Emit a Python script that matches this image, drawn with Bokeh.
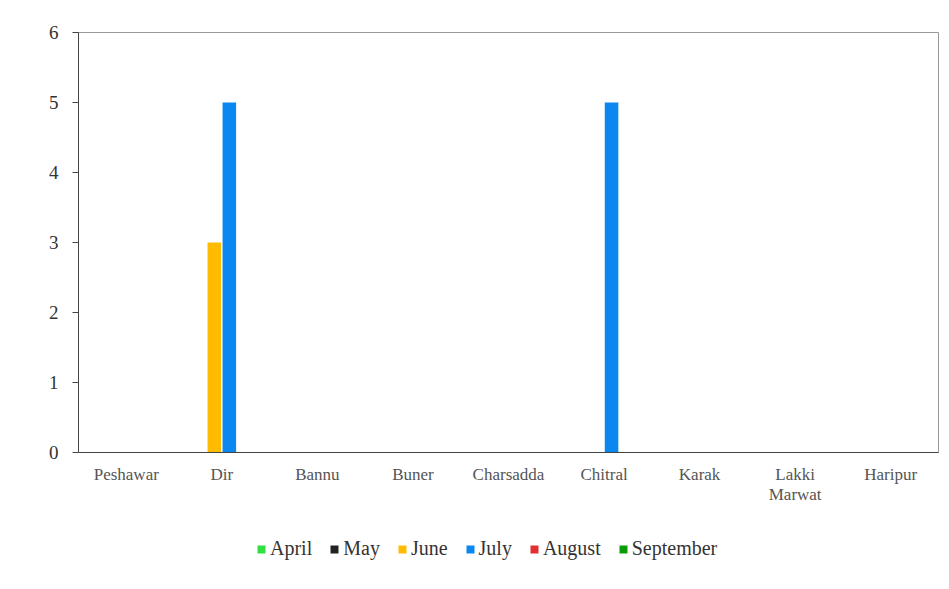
from bokeh.plotting import figure
from bokeh.layouts import column
from bokeh.models import (Range1d, Legend, LegendItem, FixedTicker, ColumnDataSource, LinearAxis)
from bokeh.transform import dodge
from bokeh.embed import file_html
from bokeh.resources import INLINE

districts = ["Peshawar", "Dir", "Bannu", "Buner", "Charsadda", "Chitral", "Karak", "Lakki Marwat", "Haripur"]
months = ["April", "May", "June", "July", "August", "September"]
april = [0, 0, 0, 0, 0, 0, 0, 0, 0]
may = [0, 0, 0, 0, 0, 0, 0, 0, 0]
june = [0, 3, 0, 0, 0, 0, 0, 0, 0]
july = [0, 5, 0, 0, 0, 5, 0, 0, 0]
august = [0, 0, 0, 0, 0, 0, 0, 0, 0]
september = [0, 0, 0, 0, 0, 0, 0, 0, 0]
colors = ["#2EE040", "#222222", "#FFBB00", "#0A88F0", "#E03030", "#0A9A0A"]
series = [april, may, june, july, august, september]

n = len(districts)
centers = [i + 0.5 for i in range(n)]  # category slot centres
source = ColumnDataSource(data=dict(pos=centers, **{m: s for m, s in zip(months, series)}))

p = figure(width=949, height=520, output_backend="svg", toolbar_location=None,
           x_range=Range1d(0, n), y_range=Range1d(0, 6), x_axis_location=None)
p.min_border_left = 78
p.min_border_top = 32
p.min_border_right = 11
p.min_border_bottom = 68

step = 0.157
for i, (m, c) in enumerate(zip(months, colors)):
    p.vbar(x=dodge("pos", (i - 2.5) * step), top=m, width=0.142,
           source=source, fill_color=c, line_color=None)

p.xgrid.grid_line_color = None
p.ygrid.grid_line_color = None
p.outline_line_color = "#999999"

p.yaxis.ticker = FixedTicker(ticks=[0, 1, 2, 3, 4, 5, 6])
p.yaxis.minor_tick_line_color = None
p.yaxis.major_tick_out = 6
p.yaxis.major_tick_in = 0
p.yaxis.axis_line_color = "#444444"
p.yaxis.major_tick_line_color = "#444444"
p.yaxis.major_label_text_font = "Liberation Serif"
p.yaxis.major_label_text_font_size = "19px"
p.yaxis.major_label_text_color = "#333333"
p.yaxis.major_label_standoff = 14

line1 = {c: d.split(" ")[0] for c, d in zip(centers, districts)}
line2 = {c: " ".join(d.split(" ")[1:]) for c, d in zip(centers, districts) if " " in d}

xa = LinearAxis(ticker=FixedTicker(ticks=centers),
                major_label_overrides=line1, major_tick_line_color=None, minor_tick_line_color=None,
                axis_line_color="#444444", major_label_text_font="Liberation Serif",
                major_label_text_font_size="17px", major_label_text_color="#555555",
                major_label_standoff=6)
p.add_layout(xa, "below")

xa2 = LinearAxis(ticker=FixedTicker(ticks=list(line2.keys())),
                 major_label_overrides=line2, major_tick_line_color=None, minor_tick_line_color=None,
                 axis_line_color=None, major_label_text_font="Liberation Serif",
                 major_label_text_font_size="17px", major_label_text_color="#555555",
                 major_label_standoff=-8)
p.add_layout(xa2, "below")

# legend strip below the chart: same series, with ranges where no bar is visible
lf = figure(width=949, height=69, output_backend="svg", toolbar_location=None,
            x_range=Range1d(100, 101), y_range=Range1d(100, 101),
            x_axis_location=None, y_axis_location=None)
lf.min_border = 0
lf.min_border_left = 0
lf.min_border_right = 0
lf.min_border_top = 0
lf.min_border_bottom = 0
lf.outline_line_color = None
lf.xgrid.grid_line_color = None
lf.ygrid.grid_line_color = None
items = []
for i, (m, c) in enumerate(zip(months, colors)):
    r = lf.vbar(x=dodge("pos", (i - 2.5) * step), top=m, width=0.142,
                source=source, fill_color=c, line_color=None)
    items.append(LegendItem(label=m, renderers=[r]))

legend = Legend(items=items, orientation="horizontal", location=(178, 29))
legend.padding = 0
legend.margin = 0
legend.border_line_color = None
legend.background_fill_alpha = 0
legend.glyph_width = 10
legend.glyph_height = 10
legend.label_standoff = 4
legend.spacing = 17
legend.label_text_font = "Liberation Serif"
legend.label_text_font_size = "20px"
legend.label_text_color = "#333333"
lf.add_layout(legend, "center")

layout = column(p, lf, spacing=0)
open("out.html", "w").write(file_html(layout, INLINE))
